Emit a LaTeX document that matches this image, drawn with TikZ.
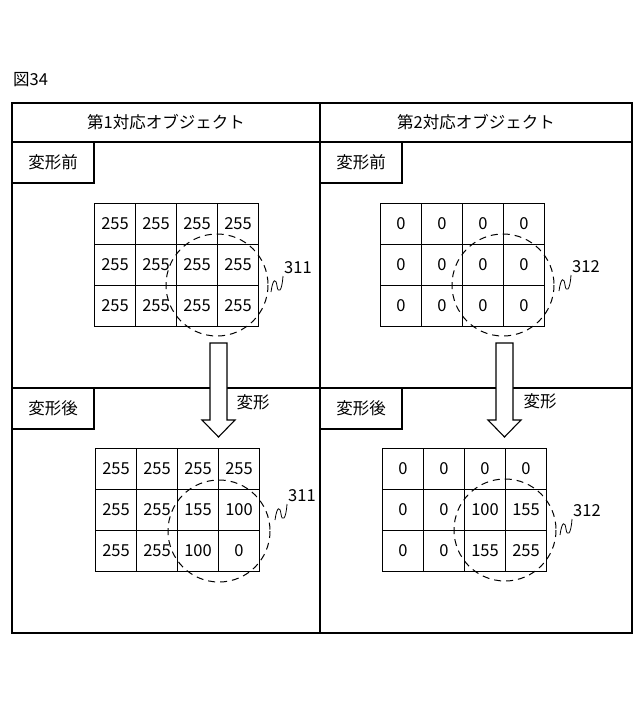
\documentclass[tikz,border=0pt]{standalone}
\usepackage{fontspec}
\setmainfont{Noto Sans CJK JP}
\begin{document}
\begin{tikzpicture}[x=1pt,y=-1pt,
  ln/.style={line width=1.1pt},
  cell/.style={draw,line width=1.1pt,minimum width=41pt,minimum height=41pt,inner sep=0pt,font=\fontsize{16.5}{16}\selectfont},
  lab/.style={font=\fontsize{16.5}{16}\selectfont},
  dc/.style={dashed,dash pattern=on 7pt off 5pt,line width=1pt},
  arr/.style={draw,fill=white,line width=1.1pt}]
\useasboundingbox (0,0) rectangle (640,704);
\node[lab,anchor=west,inner sep=0pt] (fig) at (13,80) {図34};
% frames
\draw[ln] (12,103) rectangle (632,633);
\draw[ln] (320,103) -- (320,633);
\draw[ln] (12,142) -- (632,142);
\draw[ln] (12,388) -- (632,388);
\draw[ln] (12,183) -- (94,183) -- (94,142);
\draw[ln] (12,429) -- (94,429) -- (94,388);
\draw[ln] (320,183) -- (402,183) -- (402,142);
\draw[ln] (320,429) -- (402,429) -- (402,388);
\node[lab] (h1) at (166,122) {第1対応オブジェクト};
\node[lab] (h2) at (476,122) {第2対応オブジェクト};
\node[lab] (b1) at (53,162) {変形前};
\node[lab] (b2) at (361,162) {変形前};
\node[lab] (a1) at (53,408) {変形後};
\node[lab] (a2) at (361,408) {変形後};
% arrows
\draw[arr] (210,343) -- (227,343) -- (227,420) -- (235,420) -- (218.5,437) -- (202,420) -- (210,420) -- cycle;
\draw[arr] (496,343) -- (513,343) -- (513,420) -- (521,420) -- (504.5,437) -- (488,420) -- (496,420) -- cycle;
\node[lab] (t1) at (253,402) {変形};
\node[lab] (t2) at (540,401) {変形};
% grids
\def\grid#1#2#3{%
  \foreach \r [count=\i from 0] in {#3} {%
    \foreach \v [count=\j from 0] in \r {%
      \node[cell] (g#1-\i-\j) at ({#2+\j*41},{\i*41}) {\v};}}}
\begin{scope}[shift={(0,224)}]\grid{a}{115}{{255,255,255,255},{255,255,255,255},{255,255,255,255}}\end{scope}
\begin{scope}[shift={(0,469)}]\grid{b}{116}{{255,255,255,255},{255,255,155,100},{255,255,100,0}}\end{scope}
\begin{scope}[shift={(0,224)}]\grid{c}{401}{{0,0,0,0},{0,0,0,0},{0,0,0,0}}\end{scope}
\begin{scope}[shift={(0,469)}]\grid{d}{403}{{0,0,0,0},{0,0,100,155},{0,0,155,255}}\end{scope}
% circles
\draw[dc] (217,285) circle (51);
\draw[dc] (219,531) circle (51);
\draw[dc] (503,285) circle (51);
\draw[dc] (505,530) circle (51);
% labels
\foreach \nm/\x/\y/\t in {l1/284/268/311,l2/288/496/311,l3/572/267/312,l4/573/511/312}{
  \node[lab,anchor=west,inner sep=0pt] (\nm) at (\x,\y) {\t};
  \draw[line width=0.8pt] (\x-13,\y+24) .. controls (\x-11,\y+10) and (\x-8,\y+10) .. (\x-7,\y+18) .. controls (\x-6,\y+26) and (\x-2,\y+24) .. (\x-1,\y+8);
}
\end{tikzpicture}
\end{document}
